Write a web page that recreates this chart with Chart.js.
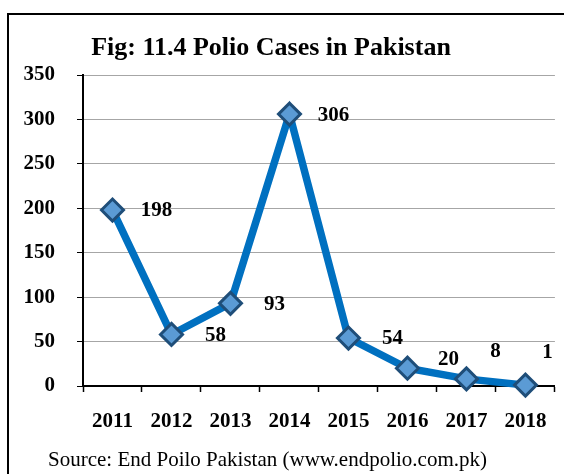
<!DOCTYPE html>
<html>
<head>
<meta charset="utf-8">
<script src="https://cdn.jsdelivr.net/npm/chart.js@4/dist/chart.umd.min.js"></script>
<style>
  html, body { margin: 0; padding: 0; background: #fff; }
  #wrap { position: relative; width: 564px; height: 474px; }
  #frame { position: absolute; left: 7px; top: 13px; width: 570px; height: 480px; border: 2px solid #000; box-sizing: border-box; }
  canvas { position: absolute; left: 0; top: 0; }
</style>
</head>
<body>
<div id="wrap">
  <div id="frame"></div>
  <canvas id="chart" width="564" height="474"></canvas>
</div>
<script>
const years = ['2011', '2012', '2013', '2014', '2015', '2016', '2017', '2018'];
const cases = [198, 58, 93, 306, 54, 20, 8, 1];
const yTicks = [0, 50, 100, 150, 200, 250, 300, 350];

const titleText = 'Fig: 11.4 Polio Cases in Pakistan';
const sourceText = 'Source: End Poilo Pakistan (www.endpolio.com.pk)';

// label offsets from each point (px)
const labelDx = [44, 44, 44, 44, 44, 41, 29, 22];
const labelDy = [1, 1, 1, 1, 1, -9, -27, -33];

const serif = '"Liberation Serif", "Times New Roman", serif';

const textPlugin = {
    id: 'textPlugin',
    afterDraw(chart) {
        const ctx = chart.ctx;
        ctx.save();
        ctx.fillStyle = '#000';
        ctx.font = 'bold 26px ' + serif;
        ctx.textAlign = 'center';
        ctx.textBaseline = 'middle';
        ctx.fillText(titleText, 271, 48);

        ctx.font = '21px ' + serif;
        ctx.textAlign = 'left';
        ctx.fillText(sourceText, 48, 460);

        // value labels
        ctx.font = 'bold 21px ' + serif;
        ctx.textAlign = 'center';
        const meta = chart.getDatasetMeta(0);
        meta.data.forEach((pt, i) => {
            ctx.fillText(String(cases[i]), pt.x + labelDx[i], pt.y + labelDy[i]);
        });
        ctx.restore();
    }
};

new Chart(document.getElementById('chart'), {
    type: 'line',
    data: {
        labels: years,
        datasets: [{
            data: cases,
            borderColor: '#0070C0',
            borderWidth: 7.5,
            tension: 0,
            pointStyle: 'rectRot',
            pointRadius: 11,
            pointBackgroundColor: '#5B9BD5',
            pointBorderColor: '#1F4E79',
            pointBorderWidth: 3,
            clip: false
        }]
    },
    options: {
        responsive: false,
        animation: false,
        layout: { autoPadding: false, padding: { left: 10, top: 75, right: 9, bottom: 38 } },
        plugins: {
            legend: { display: false },
            tooltip: { enabled: false }
        },
        scales: {
            x: {
                offset: true,
                grid: { offset: true, drawOnChartArea: false, tickLength: 6, tickColor: '#000', tickWidth: 1.5 },
                border: { color: '#000', width: 2 },
                ticks: {
                    color: '#000',
                    font: { family: serif, size: 21, weight: 'bold' },
                    padding: 17,
                    maxRotation: 0
                },
                afterFit(scale) { scale.height = 50; }
            },
            y: {
                min: 0,
                max: 350,
                afterBuildTicks(scale) { scale.ticks = yTicks.map(v => ({ value: v })); },
                grid: { color: '#A6A6A6', lineWidth: 1, tickLength: 6, tickColor: '#000' },
                border: { color: '#000', width: 2 },
                ticks: {
                    color: '#000',
                    font: { family: serif, size: 21, weight: 'bold' },
                    padding: 22
                },
                afterFit(scale) { scale.width = 73; }
            }
        }
    },
    plugins: [textPlugin]
});
</script>
</body>
</html>
